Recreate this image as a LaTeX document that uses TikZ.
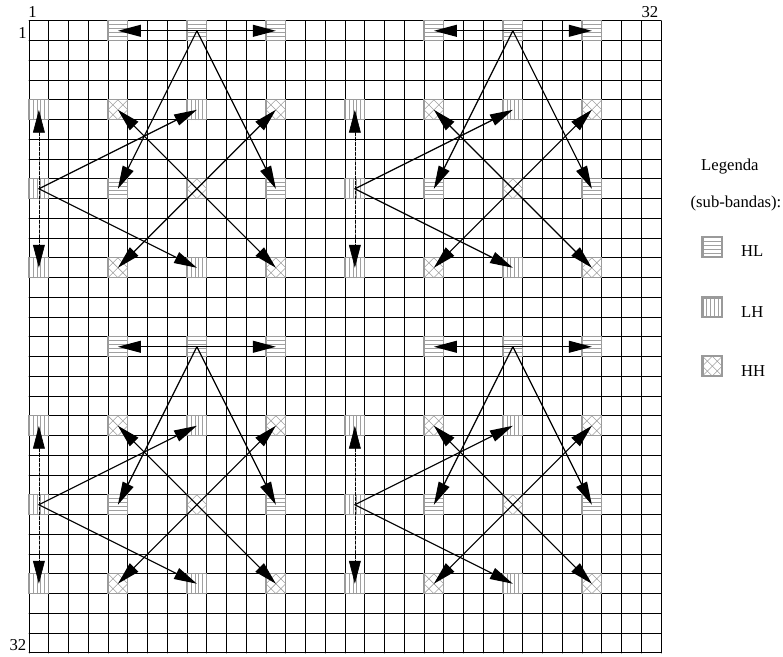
\documentclass[tikz,border=0pt]{standalone}
\usepackage{fontspec}
\setmainfont{Liberation Serif}
\usetikzlibrary{arrows.meta}
\definecolor{cinza}{HTML}{9A9A9A}
\definecolor{trama}{HTML}{A0A0A0}

\tikzset{
  grade/.style={black,line width=0.65pt},
  borda/.style={cinza,line width=0.8pt},
  bordaleg/.style={cinza,line width=1.6pt},
  listra/.style={trama,line width=0.55pt},
  seta/.style={line width=0.85pt,>={Triangle[length=5.8mm,width=3mm]}},
  rotulo/.style={font=\fontsize{12}{14}\selectfont},
  HL/.pic={
    \foreach \k in {0.2,0.4,0.6,0.8} \draw[listra] (0,\k) -- (1,\k);
    \draw[borda] (0,0) rectangle (1,1);},
  LH/.pic={
    \foreach \k in {0.2,0.4,0.6,0.8} \draw[listra] (\k,0) -- (\k,1);
    \draw[borda] (0,0) rectangle (1,1);},
  HH/.pic={
    \draw[listra,line width=0.4pt] (0,0) -- (1,1) (0,1) -- (1,0)
         (0,0.5) -- (0.5,1) -- (1,0.5) -- (0.5,0) -- cycle;
    \draw[borda] (0,0) rectangle (1,1);},
}

\begin{document}
\begin{tikzpicture}[x=0.5cm,y=-0.5cm,line cap=round]
  \useasboundingbox (-1.47,-1.06) rectangle (38.18,32.2);
  % --- grade 32x32 ---
  \foreach \i in {0,...,32}{
    \draw[grade] (\i,0) -- (\i,32);
    \draw[grade] (0,\i) -- (32,\i);
  }
  % --- sub-bandas em cada quadrante ---
  \foreach \qx/\qy [count=\q] in {0/0,16/0,0/16,16/16}{
    \begin{scope}[shift={(\qx,\qy)}]
      \foreach \r/\c in {1/5,1/9,1/13,9/5,9/13} \pic at (\c-1,\r-1) {HL};
      \foreach \r/\c in {5/1,9/1,13/1,5/9,13/9} \pic at (\c-1,\r-1) {LH};
      \foreach \r/\c in {5/5,5/13,9/9,13/5,13/13} \pic at (\c-1,\r-1) {HH};
      \foreach \r in {1,5,9,13}
        \foreach \c in {1,5,9,13}
          \coordinate (q\q-\r-\c) at (\c-0.5,\r-0.5);
    \end{scope}
  }
  % --- setas ---
  \foreach \q in {1,...,4}{
    \draw[seta,<->] (q\q-1-5) -- (q\q-1-13);
    \draw[seta,->] (q\q-1-9) -- (q\q-9-5);
    \draw[seta,->] (q\q-1-9) -- (q\q-9-13);
    \draw[seta,<->,line width=0.45pt,dash pattern=on 2.5pt off 1pt] (q\q-5-1) -- (q\q-13-1);
    \draw[seta,->] (q\q-9-1) -- (q\q-5-9);
    \draw[seta,->] (q\q-9-1) -- (q\q-13-9);
    \draw[seta,<->] (q\q-5-5) -- (q\q-13-13);
    \draw[seta,<->] (q\q-5-13) -- (q\q-13-5);
  }
  % --- indices ---
  \node[rotulo] (n1top) at (0.18,-0.45) {1};
  \node[rotulo] (n1esq) at (-0.33,0.6) {1};
  \node[rotulo] (n32top) at (31.44,-0.45) {32};
  \node[rotulo] (n32esq) at (-0.56,31.6) {32};
  % --- legenda ---
  \node[rotulo] (legenda) at (35.49,7.39) {Legenda};
  \node[rotulo] (subbandas) at (35.8,9.22) {(sub-bandas):};
  \pic at (34.1,10.95) {HL};
  \draw[bordaleg] (34.1,10.95) rectangle ++(1,1);
  \node[rotulo,anchor=base west,inner sep=0pt] (legHL) at (36.05,11.95) {HL};
  \pic at (34.1,14) {LH};
  \draw[bordaleg] (34.1,14) rectangle ++(1,1);
  \node[rotulo,anchor=base west,inner sep=0pt] (legLH) at (36.05,15) {LH};
  \pic at (34.1,16.98) {HH};
  \draw[bordaleg] (34.1,16.98) rectangle ++(1,1);
  \node[rotulo,anchor=base west,inner sep=0pt] (legHH) at (36.05,17.98) {HH};
\end{tikzpicture}
\end{document}
